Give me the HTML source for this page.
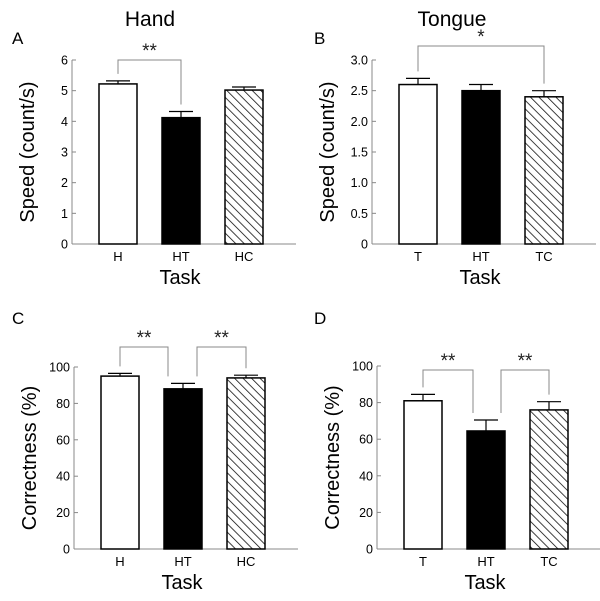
<!DOCTYPE html>
<html><head><meta charset="utf-8"><style>
body{margin:0;background:#fff;}
svg{display:block;font-family:"Liberation Sans",sans-serif;}
</style></head><body>
<svg id="fig" width="600" height="601" viewBox="0 0 600 601">
<defs>
<pattern id="hatch" patternUnits="userSpaceOnUse" width="6" height="6" patternTransform="rotate(-45)">
<rect width="6" height="6" fill="#fff"/><line x1="0" y1="0" x2="0" y2="6" stroke="#000" stroke-width="1.5"/>
</pattern>
</defs>
<text x="150" y="26" font-size="21" text-anchor="middle">Hand</text>
<text x="452" y="26" font-size="21" text-anchor="middle">Tongue</text>
<text x="12" y="44" font-size="17">A</text>
<text x="314" y="44" font-size="17">B</text>
<text x="12" y="324" font-size="17">C</text>
<text x="314" y="324" font-size="17">D</text>
</svg>
<script>
const catsA=["H","HT","HC"], valsA=[5.22,4.12,5.02], errA=[0.1,0.2,0.1], ticksA=["0","1","2","3","4","5","6"];
const catsB=["T","HT","TC"], valsB=[2.6,2.5,2.4], errB=[0.1,0.1,0.1], ticksB=["0","0.5","1.0","1.5","2.0","2.5","3.0"];
const catsC=["H","HT","HC"], valsC=[95,88,94], errC=[1.5,3,1.5], ticksC=["0","20","40","60","80","100"];
const catsD=["T","HT","TC"], valsD=[81,64.5,76], errD=[3.5,6,4.5], ticksD=["0","20","40","60","80","100"];
const svg=document.getElementById('fig');
const NS="http://www.w3.org/2000/svg";
function mk(tag,attrs,parent){const e=document.createElementNS(NS,tag);for(const k in attrs)e.setAttribute(k,attrs[k]);(parent||svg).appendChild(e);return e;}
const fills=["#fff","#000","url(#hatch)"];
function panel(id,ox,y0,yTop,yMax,cats,vals,errs,ticks,ylab,brackets){
  const g=mk('g',{});
  
  
  const y=v=>y0-(v/yMax)*(y0-yTop);
  const barX=i=>ox+27+i*63;
  const bw=38;
  const ax=mk('line',{x1:ox,y1:y0,x2:ox+224,y2:y0,stroke:'#888','stroke-width':1},g);
  
  
  const ay=mk('line',{x1:ox,y1:y0,x2:ox,y2:yTop,stroke:'#888','stroke-width':1},g);
  
  
  ticks.forEach((t,i)=>{
    const v=i*yMax/(ticks.length-1), yy=y(v);
    mk('line',{x1:ox,y1:yy,x2:ox+4,y2:yy,stroke:'#888'},g);
    const tx=mk('text',{x:ox-4,y:yy+4.5,'font-size':12.5,'text-anchor':'end'},g);
    tx.textContent=t;
    
    
  });
  cats.forEach((c,i)=>{
    const x=barX(i), cx=x+bw/2, top=y(vals[i]), et=y(vals[i]+errs[i]);
    mk('line',{x1:cx,y1:top,x2:cx,y2:et,stroke:'#000','stroke-width':1.2},g);
    mk('line',{x1:cx-12,y1:et,x2:cx+12,y2:et,stroke:'#000','stroke-width':1.2},g);
    const r=mk('rect',{x:x,y:top,width:bw,height:y0-top,fill:fills[i],stroke:'#000','stroke-width':1.5},g);
    
    
    const tx=mk('text',{x:cx,y:y0+17,'font-size':13,'text-anchor':'middle'},g);
    tx.textContent=c;
    
    
  });
  const xt=mk('text',{x:ox+108,y:y0+40,'font-size':20,'text-anchor':'middle'},g);
  xt.textContent='Task';
  
  
  const my=(y0+yTop)/2;
  const yt=mk('text',{x:ox-38,y:my,'font-size':20,'text-anchor':'middle',transform:`rotate(-90 ${ox-38} ${my})`},g);
  yt.textContent=ylab;
  
  
  brackets.forEach(b=>{
    const x1=barX(b.a)+bw/2+(b.d1||0), x2=barX(b.b)+bw/2+(b.d2||0), top=b.top;
    const l1=y(vals[b.a]+errs[b.a])-7, l2=y(vals[b.b]+errs[b.b])-7;
    const p=mk('path',{d:`M${x1} ${l1}V${top}H${x2}V${l2}`,fill:'none',stroke:'#888','stroke-width':1},g);
    
    
    const s=mk('text',{x:(x1+x2)/2,y:top-3,'font-size':19,'text-anchor':'middle',fill:'#222'},g);
    s.textContent=b.s;
    
    
  });
}
panel('a',72,244,60,6,catsA,valsA,errA,ticksA,'Speed (count/s)',[{a:0,b:1,top:60,s:'**'}]);
panel('b',372,244,60,3,catsB,valsB,errB,ticksB,'Speed (count/s)',[{a:0,b:2,top:46,s:'*'}]);
panel('c',74,549,367,100,catsC,valsC,errC,ticksC,'Correctness (%)',[{a:0,b:1,top:347,s:'**',d2:-15},{a:1,b:2,top:347,s:'**',d1:14}]);
panel('d',377,549,366,100,catsD,valsD,errD,ticksD,'Correctness (%)',[{a:0,b:1,top:370,s:'**',d2:-13},{a:1,b:2,top:370,s:'**',d1:15}]);
</script>
</body></html>
